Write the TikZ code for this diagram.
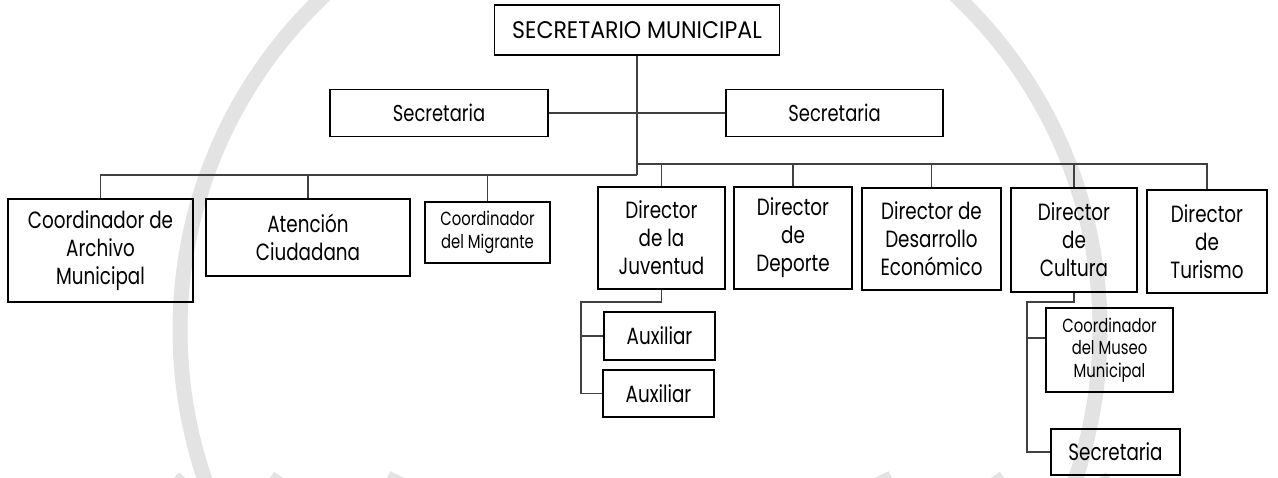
\documentclass[tikz,border=0pt]{standalone}
\usepackage{fontspec}
\setmainfont{Poppins}[FakeStretch=0.78]
\newfontfamily\capsfont{Poppins}[FakeStretch=0.92]
\usepackage{tikz}
\definecolor{wmgray}{rgb}{0.89,0.89,0.89}
\definecolor{lngray}{rgb}{0.25,0.25,0.25}
\tikzset{
  thinbox/.style={draw,line width=1.8pt,align=center,inner sep=0pt,font=\fontsize{23}{28}\selectfont},
  heavybox/.style={draw,line width=2.8pt,align=center,inner sep=0pt,font=\fontsize{23.5}{28}\selectfont},
  smallbox/.style={heavybox,font=\fontsize{19}{22.5}\selectfont},
  link/.style={line width=1.1pt,color=lngray}
}
\begin{document}
\begin{tikzpicture}[line cap=butt,line join=miter,x=1pt,y=-1pt]
\clip (0,0) rectangle (1278,478);
\fill[white] (0,0) rectangle (1278,478);
\draw[wmgray,line width=15pt] (640,330) circle (460);
\draw[wmgray,line width=15pt] (174,478) arc[start angle=132,end angle=48,radius=700];
\draw[wmgray,line width=15pt] (270,478) arc[start angle=125,end angle=55,radius=640];
\draw[wmgray,line width=15pt] (387,478) arc[start angle=115.8,end angle=64.2,radius=580];
\node[thinbox,minimum width=285,minimum height=50,font=\capsfont\fontsize{24}{28}\selectfont] (secmun) at (637,30) {SECRETARIO MUNICIPAL};
\node[thinbox,minimum width=218,minimum height=47] (secL) at (439,113) {Secretaria};
\node[thinbox,minimum width=217,minimum height=47] (secR) at (834.5,113) {Secretaria};
\node[heavybox,minimum width=185,minimum height=103] (archivo) at (100.5,250.5) {Coordinador de\\Archivo\\Municipal};
\node[heavybox,minimum width=204,minimum height=77] (atencion) at (308,237.5) {Atención\\Ciudadana};
\node[smallbox,minimum width=125,minimum height=61] (migrante) at (487.5,232.5) {Coordinador\\del Migrante};
\node[heavybox,minimum width=127,minimum height=102] (juventud) at (661.5,238) {Director\\de la\\Juventud};
\node[heavybox,minimum width=118,minimum height=102] (deporte) at (793,238) {Director\\de\\Deporte};
\node[heavybox,minimum width=139,minimum height=102] (desarrollo) at (931.5,239) {Director de\\Desarrollo\\Económico};
\node[heavybox,minimum width=126,minimum height=104] (cultura) at (1074,240) {Director\\de\\Cultura};
\node[heavybox,minimum width=120,minimum height=103] (turismo) at (1207,241.5) {Director\\de\\Turismo};
\node[heavybox,minimum width=111,minimum height=48] (aux1) at (659.5,336) {Auxiliar};
\node[heavybox,minimum width=111,minimum height=47] (aux2) at (658.5,393.5) {Auxiliar};
\node[smallbox,minimum width=127,minimum height=84] (museo) at (1109.5,350) {Coordinador\\del Museo\\Municipal};
\node[heavybox,minimum width=129,minimum height=46] (secC) at (1115.5,452) {Secretaria};
\coordinate (busL) at (637,175);
\coordinate (busR) at (637,164);
\coordinate (juvC) at (581,302);
\coordinate (culC) at (1027,302);
\draw[link] (secmun.south) -- (busL);
\draw[link] (secL.east) -- (secL.east -| secR.west);
\draw[link] (busL) -| (archivo.north);
\draw[link] (atencion.north) -- (atencion.north |- busL);
\draw[link] (migrante.north) -- (migrante.north |- busL);
\draw[link] (busR) -| (turismo.north);
\draw[link] (juventud.north) -- (juventud.north |- busR);
\draw[link] (deporte.north) -- (deporte.north |- busR);
\draw[link] (desarrollo.north) -- (desarrollo.north |- busR);
\draw[link] (cultura.north) -- (cultura.north |- busR);
\draw[link] (juventud.south) |- (juvC) |- (aux2.west);
\draw[link] (aux1.west) -- (aux1.west -| juvC);
\draw[link] (cultura.south) |- (culC) |- (secC.west);
\draw[link] ([yshift=12pt]museo.west) -- ([yshift=12pt]museo.west -| culC);
\end{tikzpicture}
\end{document}
